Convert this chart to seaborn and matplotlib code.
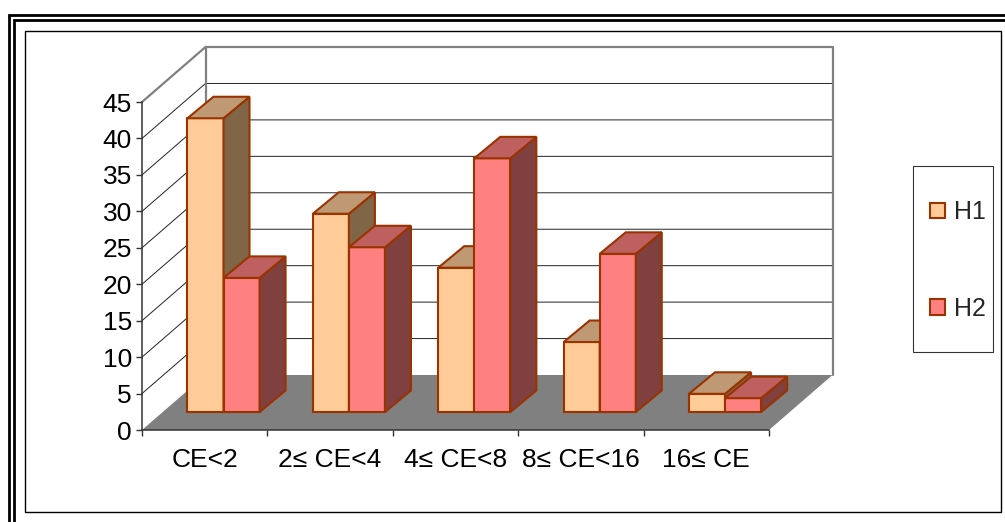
import matplotlib
matplotlib.use("Agg")
import matplotlib.pyplot as plt
import pandas as pd
import seaborn as sns
from matplotlib.patches import Patch, Polygon, Rectangle

# values
categories = ["CE<2", "2≤ CE<4", "4≤ CE<8", "8≤ CE<16", "16≤ CE"]
h1 = [40.3, 27.2, 19.8, 9.6, 2.5]
h2 = [18.4, 22.6, 34.8, 21.7, 1.9]
y_ticks = [0, 5, 10, 15, 20, 25, 30, 35, 40, 45]

W, H = 1005, 522
LINE = "#993300"
faces = {"H1": ("#FFCC99", "#BF9973", "#806647"), "H2": ("#FF8080", "#BF6060", "#804040")}

# 3d look, in data units: wall depth, bar depth, and how far the bars sit from the front
wall_dx, wall_dy = 63.5 / 125.4, 55 / 7.29
bar_dx, bar_dy = 26 / 125.4, 21.5 / 7.29
shift_x, shift_y = 18.8 / 125.4, 18 / 7.29

df = pd.DataFrame({
    "cat": categories * 2,
    "value": h1 + h2,
    "series": ["H1"] * 5 + ["H2"] * 5,
})

sns.set_theme(style="white")
plt.rcParams["font.family"] = ["Liberation Sans", "DejaVu Sans"]

fig = plt.figure(figsize=(W / 100, H / 100), dpi=100)
ax = fig.add_axes([142 / W, (H - 430) / H, 627 / W, 328 / H])
ax.patch.set_visible(False)

sns.barplot(data=df, x="cat", y="value", hue="series", order=categories,
            hue_order=["H1", "H2"], palette={k: v[0] for k, v in faces.items()},
            width=0.575, gap=0, saturation=1, edgecolor=LINE, linewidth=1.5,
            legend=False, ax=ax, zorder=5)
ax.set_xlim(-0.5, 4.5)
ax.set_ylim(0, 45)
ax.set_xlabel("")
ax.set_ylabel("")

# floor and back wall
x0, x1 = -0.5, 4.5
ax.add_patch(Polygon([(x0, 0), (x0 + wall_dx, wall_dy), (x1 + wall_dx, wall_dy), (x1, 0)],
                     closed=True, fc="#808080", ec="none", clip_on=False, zorder=1))
for v in y_ticks[1:]:
    c, lw = ("#808080", 1.6) if v == 45 else ("#222222", 0.7)
    ax.plot([x0, x0 + wall_dx, x1 + wall_dx], [v, v + wall_dy, v + wall_dy],
            color=c, lw=lw, clip_on=False, zorder=2, solid_joinstyle="miter")
ax.plot([x0 + wall_dx] * 2, [wall_dy, 45 + wall_dy], color="#808080", lw=1.6, clip_on=False, zorder=2)
ax.plot([x1 + wall_dx] * 2, [wall_dy, 45 + wall_dy], color="#808080", lw=1.6, clip_on=False, zorder=2)

# move the bars back off the front edge, then add side and top faces
bars = [p for p in ax.patches if isinstance(p, Rectangle)]
bars = sorted(bars, key=lambda p: p.get_x())
names = ["H1", "H2"] * len(categories)
for i, (bar, name) in enumerate(zip(bars, names)):
    bar.set_x(bar.get_x() + shift_x)
    bar.set_y(shift_y)
    bar.set_clip_on(False)
    bar.set_zorder(5 + i)
    bx, bw, bh = bar.get_x(), bar.get_width(), bar.get_height()
    top = shift_y + bh
    side = [(bx + bw, shift_y), (bx + bw + bar_dx, shift_y + bar_dy),
            (bx + bw + bar_dx, top + bar_dy), (bx + bw, top)]
    lid = [(bx, top), (bx + bar_dx, top + bar_dy), (bx + bw + bar_dx, top + bar_dy), (bx + bw, top)]
    ax.add_patch(Polygon(side, closed=True, fc=faces[name][2], ec=LINE, lw=1.5, clip_on=False,
                         zorder=5 + i, joinstyle="miter"))
    ax.add_patch(Polygon(lid, closed=True, fc=faces[name][1], ec=LINE, lw=1.5, clip_on=False,
                         zorder=5 + i, joinstyle="miter"))

# axes
for s in ["top", "right"]:
    ax.spines[s].set_visible(False)
for s in ["left", "bottom"]:
    ax.spines[s].set_color("#333333")
    ax.spines[s].set_linewidth(1.1)
    ax.spines[s].set_zorder(3)
ax.set_yticks(y_ticks)
ax.set_xticks(range(len(categories)))
ax.set_xticklabels(categories)
ax.set_xticks([i - 0.5 for i in range(len(categories) + 1)], minor=True)
ax.tick_params(axis="y", left=True, length=4.3, width=1, color="#333333", pad=3, labelsize=19, labelcolor="black")
ax.tick_params(axis="x", which="major", bottom=False, length=0, pad=13, labelsize=19, labelcolor="black")
ax.tick_params(axis="x", which="minor", bottom=True, length=4.3, width=1, color="#333333")

# legend, its box is drawn with the frame lines below
handles = [Patch(fc=faces[k][0], ec=LINE, lw=1.5, label=k) for k in faces]
leg = ax.legend(handles=handles, loc="center left", bbox_to_anchor=(930 / W, (H - 260.5) / H),
                bbox_transform=fig.transFigure, fontsize=18, frameon=False,
                handlelength=0.6, handleheight=0.6, handletextpad=0.36,
                labelspacing=2.9, borderpad=0, borderaxespad=0)
leg.set_zorder(30)


# frame lines round the picture, given in pixels from the top left
def frame_rect(x, y, x2, y2, lw, ec="black"):
    fig.add_artist(Rectangle((x / W, (H - y2) / H), (x2 - x) / W, (y2 - y) / H, fill=False,
                             ec=ec, lw=lw, transform=fig.transFigure, zorder=0))


frame_rect(25, 30.5, 1000.5, 512, 1)
frame_rect(9, 14.5, 1030, 560, 2)
frame_rect(14, 19.5, 1030, 560, 2)
frame_rect(913, 166, 993, 352, 0.8, "#333333")

fig.savefig("out.png", dpi=100)
